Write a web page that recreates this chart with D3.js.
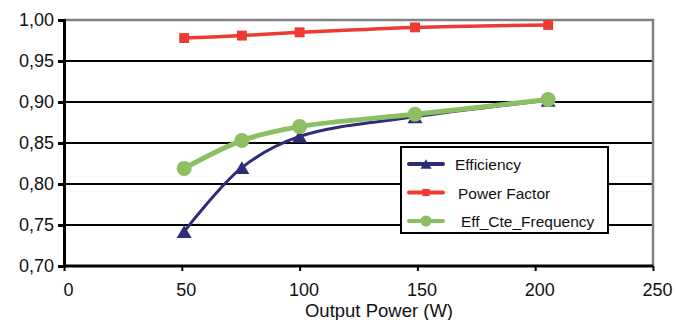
<!DOCTYPE html>
<html>
<head>
<meta charset="utf-8">
<script src="https://cdn.jsdelivr.net/npm/d3@7"></script>
<style>
  body { margin: 0; background: #fff; }
  svg { font-family: "Liberation Sans", Arial, sans-serif; }
</style>
</head>
<body>
<svg class="chart"></svg>
<script>
// values
var power = [51, 75.5, 100, 149, 205.5],
  efficiency = [0.742, 0.820, 0.858, 0.882, 0.902],
  powerFactor = [0.978, 0.981, 0.985, 0.991, 0.994],
  effCteFrequency = [0.819, 0.853, 0.870, 0.885, 0.903],
  xTicks = [0, 50, 100, 150, 200, 250],
  yTicks = [0.70, 0.75, 0.80, 0.85, 0.90, 0.95, 1.00],
  seriesNames = ["Efficiency", "Power Factor", "Eff_Cte_Frequency"];

var W = 676, H = 320,
  margin = {top: 20, right: 23, bottom: 54, left: 64},
  width = W - margin.left - margin.right,
  height = H - margin.top - margin.bottom;

var svg = d3.select(".chart").attr("width", W).attr("height", H);
var g = svg.append("g").attr("transform", "translate(" + margin.left + "," + margin.top + ")");

var xScale = d3.scaleLinear().domain([0, 250]).range([0, width]);
var yScale = d3.scaleLinear().domain([0.70, 1.00]).range([height, 0]);
var fmt = function(d){ return d3.format(".2f")(d).replace(".", ","); };

// gridlines
g.selectAll(".grid")
 .data(yTicks.filter(function(d){ return d > 0.70 && d < 1.00; }))
 .enter().append("line")
 .attr("x1", 0).attr("x2", width)
 .attr("y1", function(d){ return yScale(d); })
 .attr("y2", function(d){ return yScale(d); })
 .attr("stroke", "#000").attr("stroke-width", 2);

// top and right border
g.append("path")
 .attr("d", "M0," + yScale(1) + "H" + width + "V" + height)
 .attr("fill", "none").attr("stroke", "#808085").attr("stroke-width", 2.5);

// axes
var yAxis = g.append("g")
 .call(d3.axisLeft(yScale).tickValues(yTicks).tickFormat(fmt).tickSize(6).tickPadding(4));
var xAxis = g.append("g")
 .attr("transform", "translate(0," + height + ")")
 .call(d3.axisBottom(xScale).tickValues(xTicks).tickSize(5).tickPadding(12));
[xAxis, yAxis].forEach(function(a){
  a.select(".domain").attr("stroke", "#000").attr("stroke-width", 3);
  a.selectAll(".tick line").attr("stroke", "#000").attr("stroke-width", 3);
  a.selectAll("text").attr("font-size", 18).attr("fill", "#111")
   .attr("font-family", "Liberation Sans, Arial, sans-serif");
});
xAxis.select(".domain").attr("d", "M0,0H" + width);
xAxis.selectAll(".tick line").attr("stroke-width", 2);
xAxis.selectAll("text").attr("dx", 4);

svg.append("text")
 .attr("x", 379).attr("y", 317)
 .attr("text-anchor", "middle").attr("font-size", 18.5).attr("fill", "#111")
 .text("Output Power (W)");

var series = [
  {name: seriesNames[0], values: efficiency, color: "#2e2c78", marker: "triangle", width: 3},
  {name: seriesNames[1], values: powerFactor, color: "#ee3a33", marker: "square", width: 3.5},
  {name: seriesNames[2], values: effCteFrequency, color: "#8cbe62", marker: "circle", width: 5}
];

var line = d3.line()
 .x(function(d){ return xScale(d[0]); })
 .y(function(d){ return yScale(d[1]); })
 .curve(d3.curveCatmullRom.alpha(0.5));

function marker(sel, s, size) {
  if (s.marker === "circle") {
    sel.append("circle").attr("r", size * 0.5).attr("fill", s.color);
  } else if (s.marker === "square") {
    var q = size * 0.66;
    sel.append("rect").attr("x", -q / 2).attr("y", -q / 2)
       .attr("width", q).attr("height", q).attr("fill", s.color);
  } else {
    var w = size, h = size * 0.85;
    sel.append("path")
       .attr("d", "M0," + (-h / 2) + "L" + (w / 2) + "," + (h / 2) + "L" + (-w / 2) + "," + (h / 2) + "Z")
       .attr("fill", s.color);
  }
}

series.forEach(function(s){
  var pts = power.map(function(p, i){ return [p, s.values[i]]; });
  g.append("path").datum(pts)
   .attr("d", line).attr("fill", "none")
   .attr("stroke", s.color).attr("stroke-width", s.width);
  pts.forEach(function(p){
    var m = g.append("g").attr("transform", "translate(" + xScale(p[0]) + "," + yScale(p[1]) + ")");
    marker(m, s, 15);
  });
});

// legend
var lg = svg.append("g").attr("transform", "translate(401,147)");
lg.append("rect").attr("width", 207).attr("height", 86)
  .attr("fill", "#fff").attr("stroke", "#000").attr("stroke-width", 2);
series.forEach(function(s, i){
  var y = 17 + i * 28.5;
  var row = lg.append("g").attr("transform", "translate(0," + y + ")");
  row.append("line").attr("x1", 8).attr("x2", 42)
     .attr("stroke", s.color).attr("stroke-width", 4).attr("stroke-linecap", "round");
  var m = row.append("g").attr("transform", "translate(25,0)");
  marker(m, s, 11);
  row.append("text").attr("x", 54 + i * 3).attr("y", 6)
     .attr("font-size", 15.5).attr("fill", "#111").text(s.name);
});
</script>
</body>
</html>
